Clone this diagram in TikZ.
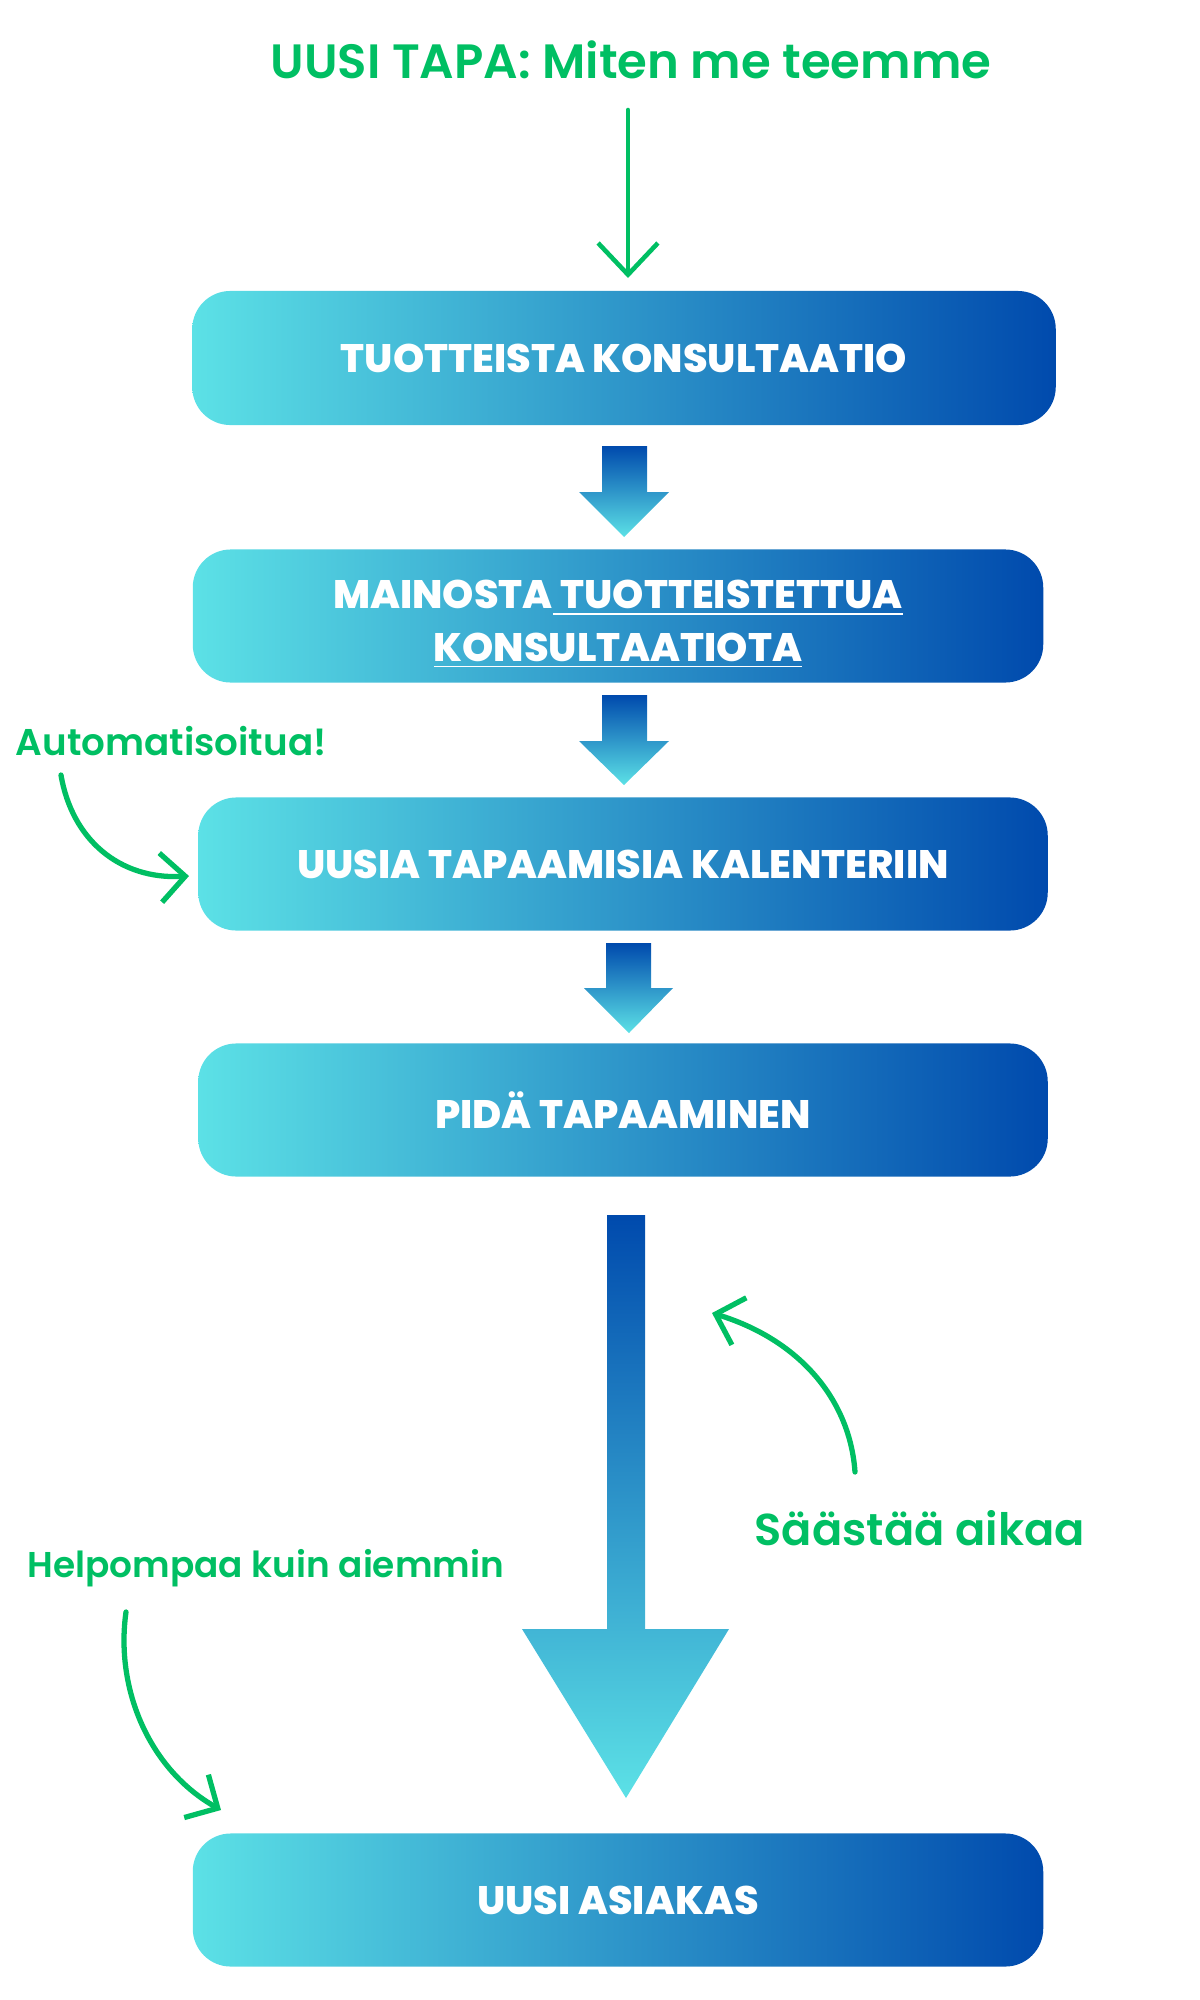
\documentclass[tikz,border=0pt]{standalone}
\usepackage{fontspec}
\setmainfont{Poppins}
\newfontfamily\heavyfont{Poppins ExtraBold}
\newfontfamily\notefont{Poppins SemiBold}
\usetikzlibrary{arrows.meta}
\definecolor{boxcyan}{HTML}{5CE1E6}
\definecolor{boxblue}{HTML}{004AAD}
\definecolor{notegreen}{HTML}{00BF63}
\tikzset{
  stepbox/.style={rectangle, rounded corners=0.38cm, inner sep=0pt,
    minimum width=8.5cm, minimum height=1.33cm, left color=boxcyan, right color=boxblue,
    text=white, align=center, font=\heavyfont\fontsize{11.3}{15}\selectfont},
  blockarrow/.style={top color=boxblue, bottom color=boxcyan},
  note/.style={text=notegreen, inner sep=0pt, anchor=west},
  greenline/.style={draw=notegreen, line width=1.5pt, line cap=round,
    -{Straight Barb[length=7pt, width=14pt]}}
}
\begin{document}
\begin{tikzpicture}[x=0.01cm, y=-0.01cm]
\useasboundingbox (0,0) rectangle (1200,2000);

\node (title) at (631,60)[text=notegreen, font=\notefont\fontsize{13.7}{16}\selectfont]{UUSI TAPA: Miten me teemme};
\coordinate (t0) at (628,110);
\coordinate (t1) at (628,278);
\draw[greenline, line width=1.3pt, -{Straight Barb[length=9pt, width=17pt]}] (t0) -- (t1);

% steps
\node[stepbox, minimum width=8.63cm, minimum height=1.34cm] (b1) at (624,358){TUOTTEISTA KONSULTAATIO};
\node[stepbox] (b2) at (618,616){\raisebox{-2.4pt}[\height][\depth]{MAINOSTA\underline{\ TUOTTEISTETTUA}}\\\raisebox{-2.4pt}[\height][\depth]{\underline{KONSULTAATIOTA}}};
\node[stepbox, minimum width=8.49cm] (b3) at (623,864){UUSIA TAPAAMISIA KALENTERIIN};
\node[stepbox, minimum width=8.49cm] (b4) at (623,1110){PIDÄ TAPAAMINEN};
\node[stepbox] (b5) at (618,1900){UUSI ASIAKAS};

% block arrows
\path[blockarrow] (602,446)--(647,446)--(647,492)--(669,492)--(624,537)--(579,492)--(602,492)--cycle;
\path[blockarrow] (602,695)--(647,695)--(647,741)--(669,741)--(624,785)--(579,741)--(602,741)--cycle;
\path[blockarrow] (606,943)--(651,943)--(651,988)--(673,988)--(629,1033)--(584,988)--(606,988)--cycle;
\path[blockarrow] (607,1215)--(645,1215)--(645,1629)--(729,1629)--(626,1798)--(522,1629)--(607,1629)--cycle;

% notes
\node[note, font=\notefont\fontsize{10.6}{12}\selectfont] (auto) at (15,741){Automatisoitua!};
\coordinate (a0) at (61,775);
\coordinate (a1) at (189,876);
\draw[greenline] (a0) .. controls (72,840) and (120,880) .. (a1);

\node[note, font=\notefont\fontsize{12.7}{16}\selectfont] (save) at (754,1528){Säästää aikaa};
\coordinate (s0) at (855,1472);
\coordinate (s1) at (712,1313);
\draw[greenline] (s0) .. controls (850,1400) and (800,1340) .. (s1);

\node[note, font=\notefont\fontsize{10.2}{12}\selectfont] (easy) at (27,1568){Helpompaa kuin aiemmin};
\coordinate (h0) at (126,1612);
\coordinate (h1) at (221,1810);
\draw[greenline] (h0) .. controls (115,1690) and (150,1770) .. (h1);

\end{tikzpicture}
\end{document}
